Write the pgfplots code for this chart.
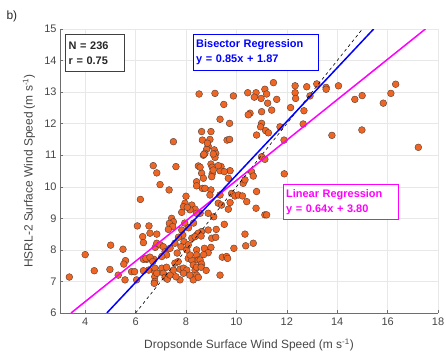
\documentclass[border=0pt]{standalone}
\usepackage{pgfplots}
\pgfplotsset{compat=1.18}
\usepackage{pgfplotstable}
\usepackage{fontspec}
\setmainfont{Liberation Sans}
\definecolor{dotfill}{RGB}{239,101,36}
\definecolor{dotedge}{RGB}{85,60,50}
\definecolor{bisblue}{RGB}{0,0,255}
\definecolor{linmag}{RGB}{255,0,255}
\definecolor{gridc}{RGB}{232,232,232}
\definecolor{axc}{RGB}{110,110,110}
\definecolor{labc}{RGB}{70,70,70}

\pgfplotstableread{
x y
3.37 7.14
4.00 7.85
4.36 7.34
4.98 7.38
5.01 8.15
5.31 7.20
5.50 8.02
5.60 7.66
5.53 7.55
5.58 7.05
5.84 7.31
5.96 7.31
6.04 7.05
6.07 8.76
6.19 9.60
6.28 8.42
6.31 8.23
6.31 7.70
6.44 7.70
6.52 7.36
6.53 8.76
6.73 7.70
6.78 8.08
6.84 8.21
6.76 7.31
6.76 7.15
6.76 7.00
6.84 10.44
6.97 10.07
7.33 9.90
6.70 10.67
7.50 11.43
7.60 10.64
6.57 8.53
6.84 8.50
6.97 8.16
7.10 8.10
6.41 7.73
6.57 7.77
6.68 7.63
6.31 7.34
6.77 7.42
7.04 7.42
7.23 7.45
6.84 7.26
6.74 6.94
7.10 7.26
7.17 7.13
7.26 7.07
7.37 7.20
7.17 7.94
7.23 7.84
7.04 7.79
7.37 8.05
7.56 8.21
7.43 9.00
7.50 8.89
7.34 8.84
7.47 8.74
7.30 8.65
7.83 9.19
7.96 9.48
8.23 9.42
8.36 9.29
8.16 9.27
7.90 9.37
8.05 9.35
7.83 8.63
7.87 8.47
7.92 8.26
7.56 7.58
7.69 7.63
7.76 7.39
7.50 7.36
7.90 7.42
8.03 7.36
7.90 7.26
7.76 7.05
8.09 7.73
8.23 7.68
8.29 7.52
8.16 7.84
8.42 8.00
8.03 8.00
8.09 8.16
8.23 8.37
8.42 8.47
8.42 7.84
8.49 7.68
8.36 7.36
8.42 7.20
8.29 7.05
8.56 7.68
8.62 7.55
8.42 7.45
8.60 7.45
8.49 7.13
9.35 7.20
9.44 7.77
9.61 7.79
9.65 7.73
9.90 8.05
10.34 8.50
10.37 8.13
10.67 8.21
8.62 8.58
8.88 8.63
8.49 8.53
8.36 8.42
8.60 8.44
9.02 8.37
9.18 8.40
8.73 8.05
8.99 8.08
8.88 7.91
9.52 8.81
8.88 9.16
8.56 9.16
8.42 9.16
8.42 10.16
8.65 9.95
8.99 9.90
8.95 9.74
9.35 9.74
9.28 9.48
9.41 9.42
9.75 9.50
9.68 9.29
9.81 9.79
9.94 9.71
10.08 9.74
10.24 9.71
10.27 10.11
10.34 10.22
10.41 9.53
10.80 9.85
10.78 9.32
11.13 9.11
11.20 9.11
11.90 10.41
8.42 10.03
8.75 9.95
8.62 10.43
8.69 10.27
9.04 10.41
9.02 10.32
9.68 10.27
9.75 10.51
9.39 10.64
9.35 10.51
9.52 10.48
10.60 10.48
10.67 10.34
8.49 10.66
8.56 10.62
8.99 10.72
9.04 10.62
9.08 10.53
9.28 10.67
8.88 11.29
8.82 11.19
8.75 11.06
9.12 11.17
9.18 11.06
9.15 10.93
8.69 11.00
8.71 11.03
9.08 11.04
8.62 11.75
8.99 11.75
8.65 11.48
8.95 11.50
9.63 11.48
9.73 11.50
8.85 11.38
9.35 12.14
9.73 12.01
9.50 12.61
8.52 12.94
9.15 12.96
9.88 12.88
10.45 12.98
10.78 12.98
10.71 12.84
11.13 13.09
11.20 12.94
10.98 12.80
11.24 12.65
11.00 12.38
10.54 12.33
10.47 12.28
11.00 12.01
10.96 11.90
11.16 11.78
11.27 11.71
10.80 11.64
11.00 10.95
11.13 10.87
11.47 13.30
12.33 13.20
12.79 13.17
13.19 13.26
13.56 13.15
13.56 13.09
14.05 13.20
12.33 12.98
12.35 12.80
11.60 12.77
12.92 12.88
12.15 12.51
12.68 12.41
11.40 12.43
11.73 11.90
12.65 11.99
11.89 11.48
13.79 11.63
14.98 11.80
14.70 12.77
14.99 12.89
15.83 12.65
16.13 12.96
16.32 13.25
17.22 11.25
7.65 7.90
7.80 8.10
8.15 7.20
7.60 7.15
8.70 7.85
8.80 7.35
7.95 8.85
8.10 8.70
7.70 8.40
9.10 9.05
8.30 8.85
9.20 8.65
8.00 9.70
}\scatterdata

\begin{document}
\begin{tikzpicture}
\path[use as bounding box] (-60bp,-46bp) rectangle (386bp,313bp);
\begin{axis}[
  scale only axis,
  width=378bp, height=284bp,
  xmin=3, xmax=18, ymin=6, ymax=15,
  xtick={4,6,...,18}, ytick={6,7,...,15},
  axis x line*=bottom, axis y line*=left,
  axis line style={draw=axc, line width=0.6bp},
  grid=major,
  major grid style={draw=gridc, line width=0.5bp},
  tick align=inside,
  major tick length=3bp,
  tick style={draw=axc, line width=0.5bp},
  tick label style={font=\fontsize{11}{12}\selectfont, text=labc},
  /pgf/number format/assume math mode=true,
  xticklabel style={yshift=-1bp},
  xlabel={Dropsonde Surface Wind Speed (m s\textsuperscript{-1})},
  ylabel={HSRL-2 Surface Wind Speed (m s\textsuperscript{-1})},
  label style={font=\fontsize{12}{13}\selectfont, text=labc},
  xlabel style={at={(axis description cs:0.5,-0.113)}, anchor=center},
  ylabel style={at={(axis description cs:-0.082,0.5)}, anchor=center},
  clip mode=individual,
]
\addplot[only marks, mark=*, mark size=3.4bp,
  mark options={fill=dotfill, draw=dotedge, line width=0.4bp}]
  table[x=x, y=y] {\scatterdata};
\addplot[black, dashed, line width=0.6bp] coordinates {(6,6) (15,15)};
\addplot[linmag, line width=1.5bp] coordinates {(3.4375,6) (17.5,15)};
\addplot[bisblue, line width=1.5bp] coordinates {(4.8588,6) (15.4471,15)};

\node[draw=black!75, line width=1.2bp, fill=white, anchor=north west,
  text width=53bp, minimum height=37bp, inner sep=3bp, align=left,
  font=\bfseries\fontsize{11}{15}\selectfont, text=black!85]
  at (axis cs:3.2,14.84) {N = 236\\r = 0.75};
\node[draw=bisblue, line width=0.8bp, fill=white, anchor=north west,
  text width=119bp, minimum height=36bp, inner sep=3bp, align=left,
  font=\bfseries\fontsize{11}{15}\selectfont, text=bisblue]
  at (axis cs:8.27,14.84) {Bisector Regression\\y = 0.85x + 1.87};
\node[draw=linmag, line width=0.8bp, fill=white, anchor=north west,
  text width=109bp, minimum height=35bp, inner sep=3bp, align=left,
  font=\bfseries\fontsize{11}{15}\selectfont, text=linmag]
  at (axis cs:11.84,10.09) {Linear Regression\\y = 0.64x + 3.80};
\end{axis}
\node[anchor=west, font=\fontsize{12}{13}\selectfont, text=black!85] at (-57bp,297bp) {b)};
\end{tikzpicture}
\end{document}
